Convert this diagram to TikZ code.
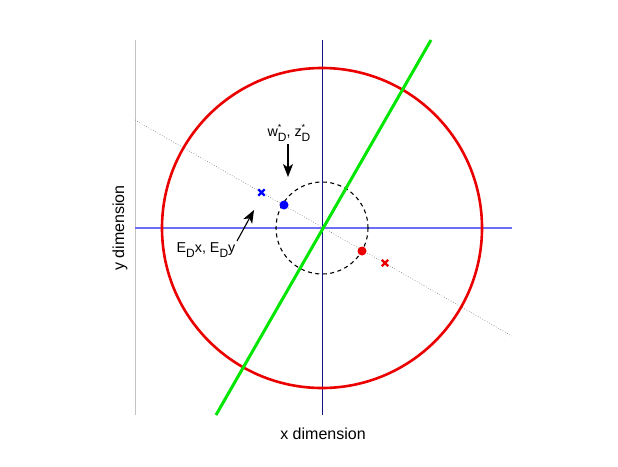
\documentclass[tikz,border=0pt]{standalone}
\usepackage{fontspec}
\setmainfont{Liberation Sans}
\usetikzlibrary{arrows.meta}
\definecolor{navyline}{RGB}{20,20,130}
\definecolor{lightblue}{RGB}{110,110,245}
\definecolor{axisgray}{RGB}{195,195,195}
\definecolor{mred}{RGB}{235,0,0}
\definecolor{mgreen}{RGB}{0,230,0}
\definecolor{dotgray}{RGB}{110,110,110}
\newcommand{\subsup}[2]{\rlap{\raisebox{6pt}{\fontsize{9}{9}\selectfont #1}}\raisebox{-4.5pt}{\fontsize{12}{12}\selectfont #2}}
\newcommand{\subonly}[1]{\raisebox{-4.5pt}{\fontsize{12}{12}\selectfont #1}}
\begin{document}
\begin{tikzpicture}[x=1pt,y=-1pt,
  lbl/.style={inner sep=0pt,font=\fontsize{14.3}{14.3}\selectfont},
  axlbl/.style={inner sep=0pt,font=\fontsize{16}{16}\selectfont},
  pointer/.style={draw=black,line width=1.1pt,-{Stealth[length=13pt,width=10pt,inset=3.5pt]}},
  dotmark/.style={circle,inner sep=0pt,minimum size=9pt},
  xmark/.style={inner sep=0pt,minimum size=6pt}]
\useasboundingbox (0,0) rectangle (618,466);
% axes frame lines
\coordinate (lt) at (135,40); \coordinate (lb) at (135,415);
\draw[axisgray,line width=1pt] (lt) -- (lb);
\coordinate (vt) at (322,40); \coordinate (vb) at (322,415);
\draw[navyline,line width=0.9pt] (vt) -- (vb);
\coordinate (hl) at (135,228); \coordinate (hr) at (512,228);
\draw[lightblue,line width=1.1pt] (hl) -- (hr);
% dotted line
\coordinate (dl) at (135,120); \coordinate (dr) at (512,336);
\draw[dotgray,line width=0.6pt,dotted] (dl) -- (dr);
% red circle
\coordinate (c) at (322,228);
\draw[mred,line width=2.6pt] (c) circle[radius=160];
% dashed circle
\draw[black,line width=1.1pt,dash pattern=on 4pt off 3.5pt] (c) circle[radius=46];
% green line
\coordinate (gb) at (216,415); \coordinate (gt) at (431,40);
\draw[mgreen,line width=3pt] (gb) -- (gt);
% points
\node[dotmark,fill=blue] (bd) at (284,205) {};
\node[dotmark,fill=mred] (rd) at (362,251) {};
\node[xmark] (bx) at (261.5,192.5) {};
\draw[blue,line width=2.2pt] (bx.north west) -- (bx.south east) (bx.north east) -- (bx.south west);
\node[xmark] (rx) at (385,263) {};
\draw[mred,line width=2.2pt] (rx.north west) -- (rx.south east) (rx.north east) -- (rx.south west);
% labels and arrows
\node[lbl] (wz) at (289,133) {w\subsup{*}{D}, z\subsup{*}{D}};
\coordinate (wza) at (288,144);
\coordinate (wzb) at (288,177);
\draw[pointer] (wza) -- (wzb);
\node[lbl] (ed) at (206,250) {E\subonly{D}x, E\subonly{D}y};
\coordinate (eda) at (237,241);
\coordinate (edb) at (254,210);
\draw[pointer] (eda) -- (edb);
\node[axlbl] (xl) at (323,434) {x dimension};
\node[axlbl,rotate=90] (yl) at (120,228) {y dimension};
\end{tikzpicture}
\end{document}
